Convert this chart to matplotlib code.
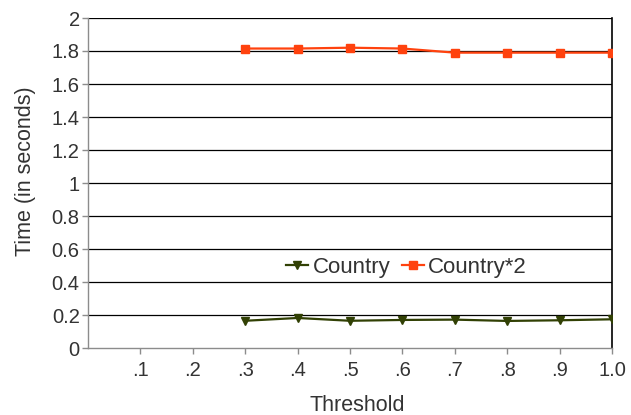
import matplotlib
matplotlib.use("Agg")
import matplotlib.pyplot as plt

thresholds = [0.3, 0.4, 0.5, 0.6, 0.7, 0.8, 0.9, 1.0]
country = [0.165, 0.182, 0.165, 0.170, 0.172, 0.164, 0.168, 0.174]
country_x2 = [1.815, 1.815, 1.820, 1.815, 1.790, 1.790, 1.790, 1.790]

x_ticks = [0.1, 0.2, 0.3, 0.4, 0.5, 0.6, 0.7, 0.8, 0.9, 1.0]
x_tick_labels = [".1", ".2", ".3", ".4", ".5", ".6", ".7", ".8", ".9", "1.0"]
y_ticks = [0, 0.2, 0.4, 0.6, 0.8, 1.0, 1.2, 1.4, 1.6, 1.8, 2.0]
y_tick_labels = ["0", "0.2", "0.4", "0.6", "0.8", "1", "1.2", "1.4", "1.6", "1.8", "2"]

plt.rcParams["font.family"] = ["Liberation Sans", "DejaVu Sans"]

fig = plt.figure(figsize=(6.31, 4.15), dpi=100)
ax = fig.add_axes([88 / 631, 1 - 348 / 415, 524 / 631, 330 / 415])

grey = "#8c8c8c"
text_col = "#333333"

for y in y_ticks[1:]:
    ax.axhline(y, color="#000000", lw=0.9, zorder=1)

ax.plot(thresholds, country, color="#314004", lw=1.6, marker="v",
        markersize=6, label="Country", zorder=3)
ax.plot(thresholds, country_x2, color="#ff420e", lw=1.6, marker="s",
        markersize=6, label="Country*2", zorder=3)

ax.set_xlim(0, 1.0)
ax.set_ylim(0, 2.0)
ax.set_xticks(x_ticks)
ax.set_xticklabels(x_tick_labels)
ax.set_yticks(y_ticks)
ax.set_yticklabels(y_tick_labels)

ax.tick_params(axis="both", colors=grey, labelcolor=text_col, labelsize=14.5,
               length=4, width=1)
ax.tick_params(axis="x", pad=5)
ax.tick_params(axis="y", pad=2)

for side in ("left", "bottom"):
    ax.spines[side].set_color(grey)
    ax.spines[side].set_linewidth(1)
ax.spines["right"].set_color("#000000")
ax.spines["right"].set_linewidth(1.2)
ax.spines["top"].set_visible(False)

ax.set_xlabel("Threshold", fontsize=15.5, color=text_col, va="center")
ax.xaxis.set_label_coords(0.513, -0.173)
ax.set_ylabel("Time (in seconds)", fontsize=15.5, color=text_col, va="center")
ax.yaxis.set_label_coords(-0.120, 0.536)

leg = ax.legend(loc="center", bbox_to_anchor=(0.608, 0.245), ncol=2,
                frameon=False, fontsize=16, handlelength=1.0,
                handletextpad=0.2, columnspacing=0.5, borderpad=0)
for t in leg.get_texts():
    t.set_color(text_col)

fig.savefig("out.png", dpi=100)
